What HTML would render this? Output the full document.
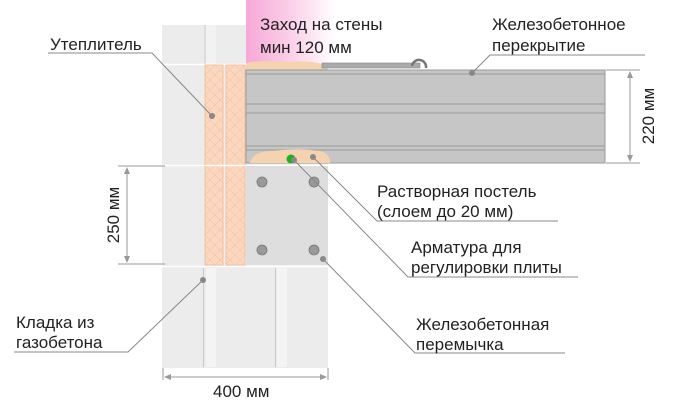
<!DOCTYPE html>
<html><head><meta charset="utf-8"><style>
html,body{margin:0;padding:0;background:#fff;width:690px;height:400px;overflow:hidden}
svg{display:block}
text{font-family:"Liberation Sans","DejaVu Sans",sans-serif;font-size:17px;fill:#222}
</style></head><body>
<svg width="690" height="400" viewBox="0 0 690 400" xmlns="http://www.w3.org/2000/svg">
<defs>
<linearGradient id="pk" x1="0" y1="0" x2="1" y2="0">
<stop offset="0" stop-color="#f7a8d8"/><stop offset="0.5" stop-color="#fbd0e8"/><stop offset="1" stop-color="#fff"/>
</linearGradient>
<pattern id="hatch" width="10" height="10" patternUnits="userSpaceOnUse">
<rect width="10" height="10" fill="#fcd7bf"/>
<path d="M0 0L10 10M10 0L0 10" stroke="#f2c3a6" stroke-width="0.6"/>
</pattern>
</defs>
<!-- pink area -->
<rect x="246" y="0" width="90" height="66" fill="url(#pk)"/>
<!-- wall blocks -->
<rect x="162" y="25" width="84" height="40" fill="#ececec"/>
<rect x="162" y="65" width="166" height="303" fill="#ececec"/>
<line x1="205" y1="25" x2="205" y2="64" stroke="#ccc"/>
<rect x="206" y="25" width="10" height="39" fill="#f2f2f2"/>
<line x1="162" y1="64.5" x2="246" y2="64.5" stroke="#fff" stroke-width="1.5"/>
<line x1="162" y1="165.5" x2="330" y2="165.5" stroke="#fff" stroke-width="1.5"/>
<line x1="162" y1="266.5" x2="330" y2="266.5" stroke="#fff" stroke-width="1.5"/>
<!-- bottom row -->
<rect x="206" y="268" width="10" height="99" fill="#f4f4f4"/>
<line x1="203.5" y1="268" x2="203.5" y2="367" stroke="#c8c8c8"/>
<rect x="277" y="268" width="10" height="99" fill="#f4f4f4"/>
<line x1="275.5" y1="268" x2="275.5" y2="367" stroke="#c8c8c8"/>
<!-- insulation -->
<rect x="205" y="65" width="18" height="200" fill="url(#hatch)" stroke="#f0b894" stroke-width="0.8"/>
<rect x="226" y="65" width="19" height="200" fill="url(#hatch)" stroke="#f0b894" stroke-width="0.8"/>
<line x1="205" y1="165.5" x2="245" y2="165.5" stroke="#fff" stroke-width="1.5"/>
<!-- lintel -->
<rect x="246" y="166" width="82" height="99" fill="#dedede"/>
<g fill="#999" stroke="#777" stroke-width="0.8">
<circle cx="262" cy="182" r="5"/><circle cx="314" cy="182" r="5"/>
<circle cx="262" cy="250" r="5"/><circle cx="314" cy="250" r="5"/>
</g>
<!-- top mortar -->
<path d="M246 70 L246 63 Q260 60 290 62 Q315 60 326 66 L328 70Z" fill="#f5d2b0"/>
<rect x="322" y="63" width="98" height="5" fill="#aaa" stroke="#888" stroke-width="0.6"/>
<path d="M412 66 A7 7 0 1 1 426 68" fill="none" stroke="#777" stroke-width="2.5"/>
<!-- slab -->
<rect x="246" y="70" width="359" height="93" fill="#c6c6c6" stroke="#999"/>
<g stroke="#999" stroke-width="1">
<line x1="246" y1="74" x2="605" y2="74"/>
<line x1="246" y1="104" x2="605" y2="104"/>
<line x1="246" y1="113" x2="605" y2="113"/>
<line x1="246" y1="146" x2="605" y2="146"/>
<line x1="246" y1="150" x2="605" y2="150"/>
</g>
<!-- bottom mortar -->
<path d="M250 163 Q252 152 270 151 Q300 148 320 151 Q330 153 330 163Z" fill="#f5d2b0"/>
<circle cx="291" cy="159" r="4.5" fill="#1bb31b"/>
<!-- leaders -->
<g stroke="#888" stroke-width="1" fill="none">
<polyline points="48,53 152,53 212,116"/>
<polyline points="14,352 128,352 203,280"/>
<polyline points="313,157 377,221 558,221"/>
<polyline points="293,159 408,277 578,277"/>
<polyline points="323,259 415,353 565,353"/>
<polyline points="472,73 490,55 645,55"/>
</g>
<g fill="#888">
<circle cx="212" cy="116" r="3"/><circle cx="203" cy="280" r="3"/>
<circle cx="313" cy="157" r="3"/><circle cx="294" cy="160" r="3"/>
<circle cx="323" cy="259" r="3"/><circle cx="472" cy="73" r="3"/>
</g>
<!-- dimensions -->
<g stroke="#999" stroke-width="1" fill="none">
<line x1="606" y1="70" x2="640" y2="70"/><line x1="606" y1="163" x2="640" y2="163"/>
<line x1="630" y1="72" x2="630" y2="161"/>
<line x1="118" y1="166" x2="165" y2="166"/><line x1="118" y1="264" x2="165" y2="264"/>
<line x1="127" y1="168" x2="127" y2="262"/>
<line x1="163" y1="368" x2="163" y2="380"/><line x1="328" y1="368" x2="328" y2="380"/>
<line x1="165" y1="377" x2="326" y2="377"/>
</g>
<g fill="#999">
<path d="M630 71l-3 7h6z"/><path d="M630 162l-3-7h6z"/>
<path d="M127 167l-3 7h6z"/><path d="M127 263l-3-7h6z"/>
<path d="M164 377l7-3v6z"/><path d="M327 377l-7-3v6z"/>
</g>
<!-- text -->
<text x="260" y="30">Заход на стены</text>
<text x="260" y="53">мин 120 мм</text>
<text x="492" y="30">Железобетонное</text>
<text x="492" y="51">перекрытие</text>
<text x="50" y="50">Утеплитель</text>
<text x="377" y="197">Растворная постель</text>
<text x="377" y="217">(слоем до 20 мм)</text>
<text x="411" y="253">Арматура для</text>
<text x="411" y="273">регулировки плиты</text>
<text x="416" y="330">Железобетонная</text>
<text x="416" y="350">перемычка</text>
<text x="16" y="328">Кладка из</text>
<text x="16" y="348">газобетона</text>
<text x="213" y="397">400 мм</text>
<text transform="translate(654,116) rotate(-90)" text-anchor="middle">220 мм</text>
<text transform="translate(119,215) rotate(-90)" text-anchor="middle">250 мм</text>
</svg>
</body></html>
